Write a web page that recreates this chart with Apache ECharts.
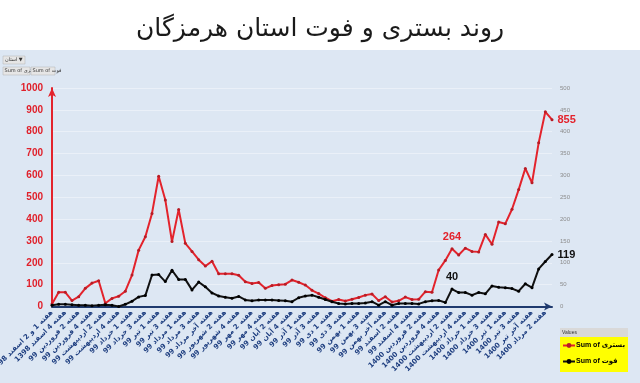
<!DOCTYPE html>
<html><head><meta charset="utf-8">
<script src="https://cdn.jsdelivr.net/npm/echarts/dist/echarts.min.js"></script>
<style>html,body{margin:0;padding:0;background:#fff}#c{width:640px;height:383px}</style>
</head><body><div id="c"></div>
<script>
const weeks = [
 'هفته 1 و 2 اسفند 1398','هفته 3 اسفند 1398','هفته 4 اسفند 1398',
 'هفته 1 فروردین 99','هفته 2 فروردین 99','هفته 3 فروردین 99','هفته 4 فروردین 99',
 'هفته 1 اردیبهشت 99','هفته 2 اردیبهشت 99','هفته 3 اردیبهشت 99','هفته 4 اردیبهشت 99','هفته آخر اردیبهشت 99',
 'هفته 1 خرداد 99','هفته 2 خرداد 99','هفته 3 خرداد 99','هفته 4 خرداد 99',
 'هفته 1 تیر 99','هفته 2 تیر 99','هفته 3 تیر 99','هفته 4 تیر 99',
 'هفته 1 مرداد 99','هفته 2 مرداد 99','هفته 3 مرداد 99','هفته 4 مرداد 99','هفته آخر مرداد 99',
 'هفته 1 شهریور 99','هفته 2 شهریور 99','هفته 3 شهریور 99','هفته 4 شهریور 99',
 'هفته 1 مهر 99','هفته 2 مهر 99','هفته 3 مهر 99','هفته 4 مهر 99',
 'هفته 1 آبان 99','هفته 2 آبان 99','هفته 3 آبان 99','هفته 4 آبان 99','هفته آخر آبان 99',
 'هفته 1 آذر 99','هفته 2 آذر 99','هفته 3 آذر 99','هفته 4 آذر 99',
 'هفته 1 دی 99','هفته 2 دی 99','هفته 3 دی 99','هفته 4 دی 99',
 'هفته 1 بهمن 99','هفته 2 بهمن 99','هفته 3 بهمن 99','هفته 4 بهمن 99','هفته آخر بهمن 99',
 'هفته 1 اسفند 99','هفته 2 اسفند 99','هفته 3 اسفند 99','هفته 4 اسفند 99',
 'هفته 1 فروردین 1400','هفته 2 فروردین 1400','هفته 3 فروردین 1400','هفته 4 فروردین 1400',
 'هفته 1 اردیبهشت 1400','هفته 2 اردیبهشت 1400','هفته 3 اردیبهشت 1400','هفته 4 اردیبهشت 1400','هفته آخر اردیبهشت 1400',
 'هفته 1 خرداد 1400','هفته 2 خرداد 1400','هفته 3 خرداد 1400','هفته 4 خرداد 1400',
 'هفته 1 تیر 1400','هفته 2 تیر 1400','هفته 3 تیر 1400','هفته 4 تیر 1400','هفته آخر تیر 1400',
 'هفته 1 مرداد 1400','هفته 2 مرداد 1400','هفته 3 مرداد 1400'
];
const hospitalized = [
 12,65,65,27,45,83,107,118,15,37,47,70,144,258,319,426,596,487,297,444,
 289,252,214,185,207,150,150,150,143,113,105,110,83,96,99,102,121,111,98,74,
 59,40,24,32,25,33,41,52,57,27,45,21,26,43,32,33,68,65,167,211,
 264,236,267,252,250,330,285,387,379,445,535,632,566,749,891,855
];
const deaths = [
 3,5,5,4,3,3,2,3,4,3,0,5,12,22,25,72,73,57,83,62,
 62,38,56,45,31,24,21,19,23,15,13,15,15,15,14,13,11,20,24,26,
 21,16,11,7,6,7,7,8,11,3,11,3,7,7,7,6,11,13,14,9,
 40,32,32,26,32,29,47,44,43,41,35,52,43,86,103,119
];
const leftAxis = {min: 0, max: 1000, step: 100};
const rightAxis = {min: 0, max: 500, step: 50};
const titleText = 'روند بستری و فوت استان هرمزگان';
const seriesNames = ['Sum of بستری', 'Sum of فوت'];
const labelled = {60: 'top', 75: 'right'};

function withLabels(arr, color, size) {
  return arr.map((v, i) => labelled[i] ? {
    value: v,
    label: {show: true, position: labelled[i], distance: labelled[i] === 'right' ? 4 : 5,
      color: color, fontSize: size, fontWeight: 'bold', fontFamily: 'Liberation Sans'}
  } : v);
}

const chart = echarts.init(document.getElementById('c'), null, {renderer: 'canvas'});
chart.setOption({
  backgroundColor: '#dde7f3',
  animation: false,
  title: {
    text: titleText, left: 'center', top: 12,
    textStyle: {fontFamily: 'DejaVu Sans', fontSize: 25, fontWeight: 'normal', color: '#1a1a1a'}
  },
  graphic: [
    {type: 'rect', shape: {x: 0, y: 0, width: 640, height: 50}, style: {fill: '#ffffff'}, z: -10, silent: true},
    {type: 'rect', shape: {x: 3, y: 56, width: 22, height: 8}, style: {fill: '#e6e6e6', stroke: '#b0b0b0', lineWidth: 0.5}},
    {type: 'text', style: {x: 5, y: 57.5, text: 'استان ▼', fontSize: 5, fill: '#333', fontFamily: 'DejaVu Sans'}},
    {type: 'rect', shape: {x: 3, y: 67, width: 27, height: 8}, style: {fill: '#e6e6e6', stroke: '#b0b0b0', lineWidth: 0.5}},
    {type: 'text', style: {x: 4.5, y: 68.5, text: 'Sum of بستری', fontSize: 5, fill: '#333', fontFamily: 'DejaVu Sans'}},
    {type: 'rect', shape: {x: 31, y: 67, width: 24, height: 8}, style: {fill: '#e6e6e6', stroke: '#b0b0b0', lineWidth: 0.5}},
    {type: 'text', style: {x: 32.5, y: 68.5, text: 'Sum of فوت', fontSize: 5, fill: '#333', fontFamily: 'DejaVu Sans'}},
    {type: 'rect', shape: {x: 560, y: 328, width: 68, height: 44}, style: {fill: '#ffff00'}},
    {type: 'rect', shape: {x: 560, y: 328, width: 68, height: 9}, style: {fill: '#d9d9d9'}},
    {type: 'text', style: {x: 562, y: 330, text: 'Values', fontSize: 5, fill: '#333', fontFamily: 'Liberation Sans'}}
  ],
  legend: {
    data: seriesNames, orient: 'vertical', left: 562, top: 342, itemGap: 9,
    itemWidth: 12, itemHeight: 6, padding: 0,
    textStyle: {fontSize: 7, fontWeight: 'bold', color: '#000', fontFamily: 'Liberation Sans, DejaVu Sans', padding: [0,0,0,-4]}
  },
  grid: {left: 52, right: 88, top: 88, bottom: 76.5, containLabel: false, outerBoundsMode: 'none'},
  xAxis: {
    type: 'category', data: weeks, boundaryGap: false,
    axisLine: {show: true, lineStyle: {color: '#1f3a6e', width: 2}, symbol: ['none', 'arrow'], symbolSize: [6, 8]},
    axisTick: {show: false},
    axisLabel: {interval: 1, rotate: 45, fontSize: 7, fontWeight: 'bold', color: '#1f3f80', margin: 5, fontFamily: 'DejaVu Sans'},
    splitLine: {show: false}
  },
  yAxis: [
    {
      type: 'value', min: leftAxis.min, max: leftAxis.max, interval: leftAxis.step,
      axisLine: {show: true, lineStyle: {color: '#e3232c', width: 2}, symbol: ['none', 'arrow'], symbolSize: [6, 9]},
      axisTick: {show: false},
      axisLabel: {color: '#e0202a', fontSize: 10, fontWeight: 'bold', margin: 9, fontFamily: 'Liberation Sans',
        formatter: v => String(v)},
      splitLine: {show: true, lineStyle: {color: '#eaf0f8', width: 1}}
    },
    {
      type: 'value', position: 'right', min: rightAxis.min, max: rightAxis.max, interval: rightAxis.step,
      axisLine: {show: false}, axisTick: {show: false},
      axisLabel: {color: '#8c8c8c', fontSize: 6, margin: 8, fontFamily: 'Liberation Sans', formatter: v => String(v)},
      splitLine: {show: false}
    }
  ],
  series: [
    {
      name: seriesNames[0], type: 'line', yAxisIndex: 0, data: withLabels(hospitalized, '#e3232c', 11),
      symbol: 'circle', symbolSize: 3, showAllSymbol: true,
      lineStyle: {color: '#e3232c', width: 2}, itemStyle: {color: '#b81c25'}, z: 3
    },
    {
      name: seriesNames[1], type: 'line', yAxisIndex: 1, data: withLabels(deaths, '#111111', 11),
      symbol: 'circle', symbolSize: 3, showAllSymbol: true,
      lineStyle: {color: '#111111', width: 2}, itemStyle: {color: '#000000'}, z: 4
    }
  ]
});
</script></body></html>
